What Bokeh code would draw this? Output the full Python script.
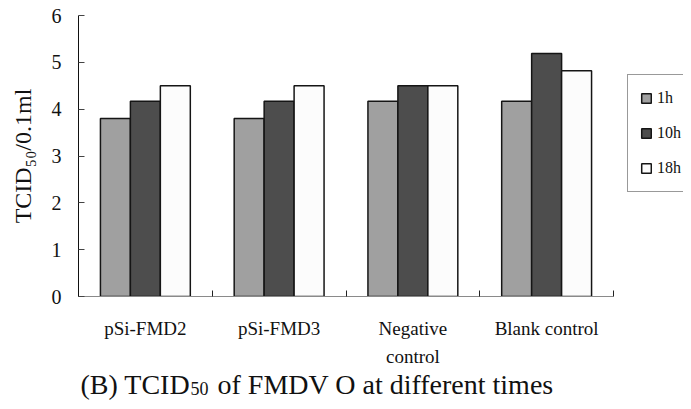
from bokeh.plotting import figure
from bokeh.models import Legend, LegendItem, FixedTicker, ColumnDataSource, Range1d
from bokeh.layouts import column
from bokeh.core.properties import value
from bokeh.embed import file_html
from bokeh.resources import INLINE

categories = ["pSi-FMD2", "pSi-FMD3", "Negative\ncontrol", "Blank control"]
series_names = ["1h", "10h", "18h"]
values_1h = [3.80, 3.80, 4.17, 4.17]
values_10h = [4.17, 4.17, 4.50, 5.19]
values_18h = [4.50, 4.50, 4.50, 4.82]
y_ticks = [0, 1, 2, 3, 4, 5, 6]
y_label = "TCID\u2085\u2080/0.1ml"
caption_parts = ["(B) TCID", "50", "of FMDV O at different times"]

colors = ["#a0a0a0", "#4d4d4d", "#fcfcfc"]
FONT = "Liberation Serif"
TXT = "#111111"

n = len(categories)
cat_px = 133.75           # pixel width of one category
frame_w = 605             # frame runs past the axis end so the legend can sit there
x_end = frame_w / cat_px
top_border, frame_h, bottom_border = 15, 281, 22
lower_h = 401 - (top_border + frame_h + bottom_border)

p = figure(frame_width=frame_w, frame_height=frame_h, output_backend="svg", toolbar_location=None,
           x_range=Range1d(0, x_end), y_range=Range1d(0, 6),
           min_border_left=78, min_border_right=0, min_border_top=top_border,
           min_border_bottom=bottom_border)
p.outline_line_color = None
p.grid.visible = False

bar_w = 0.224
offsets = [-bar_w, 0.0, bar_w]
renderers = []
for vals, off, col in zip([values_1h, values_10h, values_18h], offsets, colors):
    src = ColumnDataSource(dict(x=[i + 0.5 + off for i in range(n)], top=vals))
    r = p.vbar(x="x", top="top", bottom=0, width=bar_w, source=src,
               fill_color=col, line_color="#151515", line_width=1.5)
    renderers.append(r)

# x axis: ticks at category boundaries, no labels
p.xaxis.bounds = (0, n)
p.xaxis.ticker = FixedTicker(ticks=list(range(n + 1)))
p.xaxis.major_label_overrides = {i: "" for i in range(n + 1)}
p.xaxis.major_label_text_font_size = "1px"
p.xaxis.major_label_standoff = 0
p.xaxis.major_tick_in = 6
p.xaxis.major_tick_out = 0
p.xaxis.minor_tick_line_color = None
p.xaxis.axis_line_color = "#8a8a8a"
p.xaxis.major_tick_line_color = "#222222"

# y axis
p.yaxis.ticker = FixedTicker(ticks=y_ticks)
p.yaxis.major_tick_in = 6
p.yaxis.major_tick_out = 0
p.yaxis.minor_tick_line_color = None
p.yaxis.axis_line_color = "#111111"
p.yaxis.major_tick_line_color = "#444444"
p.yaxis.major_label_text_font = FONT
p.yaxis.major_label_text_font_size = "20px"
p.yaxis.major_label_text_color = TXT
p.yaxis.major_label_standoff = 17
p.yaxis.axis_label = y_label
p.yaxis.axis_label_text_font = FONT
p.yaxis.axis_label_text_font_size = "24px"
p.yaxis.axis_label_text_font_style = "normal"
p.yaxis.axis_label_text_color = TXT
p.yaxis.axis_label_standoff = 13

legend = Legend(items=[LegendItem(label=s, renderers=[r]) for s, r in zip(series_names, renderers)],
                location=(549, 104), orientation="vertical",
                glyph_width=12, glyph_height=12, label_height=22, label_standoff=5,
                spacing=13, padding=12, margin=0,
                label_text_font=FONT, label_text_font_size="16px", label_text_color=TXT,
                border_line_color="#333333", border_line_width=1,
                background_fill_color="white", background_fill_alpha=1)
p.add_layout(legend)

# lower panel: category names and caption, sharing the x scale
p2 = figure(frame_width=frame_w, frame_height=lower_h, output_backend="svg", toolbar_location=None,
            x_range=p.x_range, y_range=Range1d(lower_h, 0),
            x_axis_location=None, y_axis_location=None,
            min_border_left=78, min_border_right=0, min_border_top=0, min_border_bottom=0)
p2.outline_line_color = None
p2.grid.visible = False

lx, ly, lt = [], [], []
for i, cat in enumerate(categories):
    for j, line in enumerate(cat.split("\n")):
        lx.append(i + 0.5)
        ly.append(10 + 28 * j)
        lt.append(line)
p2.text(x=lx, y=ly, text=lt, text_font=value(FONT), text_font_size="19px",
        text_color=TXT, text_align="center", text_baseline="alphabetic")

cap_x = 2 / cat_px
cap_base = lower_h - 17
p2.text(x=[cap_x], y=[cap_base], text=[caption_parts[0]], text_font=value(FONT),
        text_font_size="28px", text_color=TXT, text_align="left", text_baseline="alphabetic")
p2.text(x=[cap_x], y=[cap_base + 4], x_offset=110, text=[caption_parts[1]], text_font=value(FONT),
        text_font_size="18px", text_color=TXT, text_align="left", text_baseline="alphabetic")
p2.text(x=[cap_x], y=[cap_base], x_offset=137, text=[caption_parts[2]], text_font=value(FONT),
        text_font_size="28px", text_color=TXT, text_align="left", text_baseline="alphabetic")

layout = column(p, p2, spacing=0)
open("out.html", "w").write(file_html(layout, INLINE))
